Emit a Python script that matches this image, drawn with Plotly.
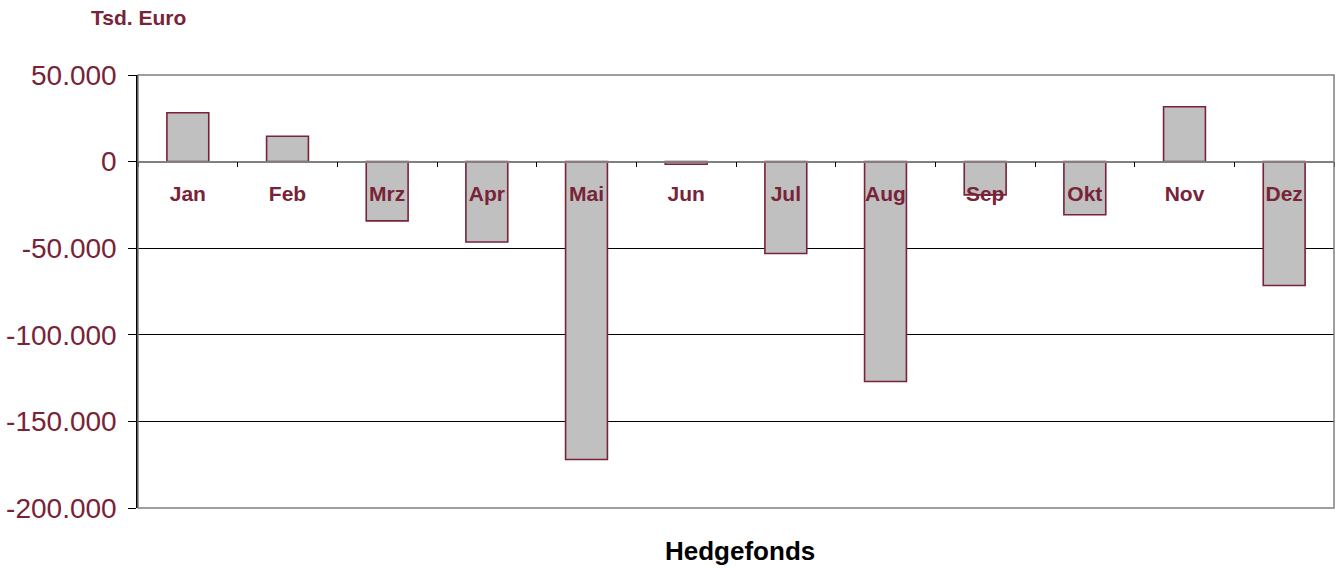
import plotly.graph_objects as go

months = ["Jan", "Feb", "Mrz", "Apr", "Mai", "Jun", "Jul", "Aug", "Sep", "Okt", "Nov", "Dez"]
values = [28200, 14600, -34200, -46400, -172000, -1500, -53100, -127000, -19200, -30700, 31700, -71500]
ytick_vals = [50000, 0, -50000, -100000, -150000, -200000]
ytick_text = ["50.000", "0", "-50.000", "-100.000", "-150.000", "-200.000"]

MAROON = "#782337"
FONT = "Liberation Sans, Arial, sans-serif"

fig = go.Figure()
fig.add_trace(go.Bar(
    x=months, y=values, width=0.42,
    marker=dict(color="#c0c0c0", line=dict(color=MAROON, width=1.6)),
    hoverinfo="x+y",
))

fig.update_layout(
    width=1335, height=569,
    margin=dict(l=138, r=1, t=75, b=61),
    plot_bgcolor="white", paper_bgcolor="white",
    showlegend=False,
    font=dict(family=FONT),
    xaxis=dict(
        type="category", anchor="free", position=0.8,
        showline=True, linecolor="#808080", linewidth=1.5,
        ticks="outside", tickson="boundaries", ticklen=5, tickcolor="black", tickwidth=1,
        tickfont=dict(size=21, color=MAROON, family=FONT, weight="bold"),
        ticklabelstandoff=13,
        showgrid=False, layer="above traces",
    ),
    yaxis=dict(
        range=[-200000, 50000], tickvals=ytick_vals, ticktext=ytick_text,
        tickfont=dict(size=28, color=MAROON, family=FONT),
        ticks="outside", ticklen=8, tickcolor="black", ticklabelstandoff=6,
        showline=True, linecolor="black", linewidth=1.5,
        showgrid=True, gridcolor="black", gridwidth=1,
        zeroline=True, zerolinecolor="#808080", zerolinewidth=1.5,
    ),
    shapes=[dict(type="rect", xref="paper", yref="paper", x0=0, x1=1, y0=0, y1=1,
                 line=dict(color="#808080", width=1.5), layer="above")],
    annotations=[
        dict(text="<b>Tsd. Euro</b>", xref="paper", yref="paper", x=0.0, y=1.0, yshift=58,
             xanchor="center", yanchor="middle", showarrow=False,
             font=dict(size=21, color=MAROON, family=FONT)),
        dict(text="<b>Hedgefonds</b>", xref="paper", yref="paper", x=0.503, y=0, yshift=-43,
             xanchor="center", yanchor="middle", showarrow=False,
             font=dict(size=26, color="black", family=FONT)),
    ],
)

fig.write_html(
    "out.html",
    config={"displayModeBar": False},
    post_script="document.body.style.margin='0';document.body.style.overflow='hidden';",
)
